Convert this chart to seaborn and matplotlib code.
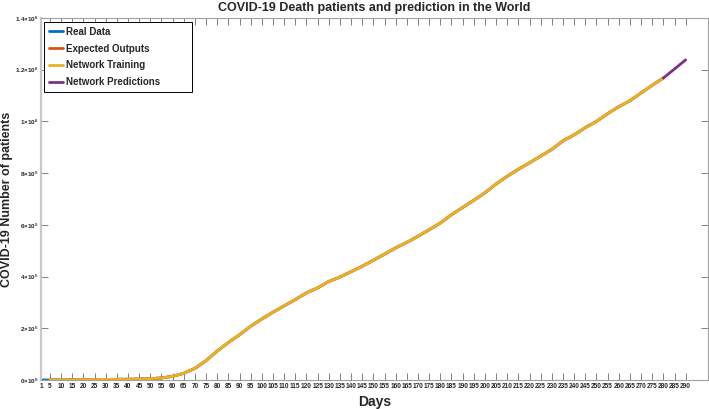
import numpy as np
import pandas as pd
import matplotlib
matplotlib.use('Agg')
import matplotlib.pyplot as plt
import seaborn as sns

# Cumulative deaths (thousands), every 5 days
days = [1, 5, 10, 15, 20, 25, 30, 35, 40, 45, 50, 55, 60, 65, 70, 75, 80, 85, 90, 95,
        100, 105, 110, 115, 120, 125, 130, 135, 140, 145, 150, 155, 160, 165, 170, 175,
        180, 185, 190, 195, 200, 205, 210, 215, 220, 225, 230, 235, 240, 245, 250, 255,
        260, 265, 270, 275, 280]
deaths_k = [0.02, 0.13, 0.26, 0.5, 1.0, 1.5, 2.2, 2.7, 3.0, 3.6, 5.0, 8.0, 14, 26, 45, 75,
            112, 145, 175, 208, 236, 262, 287, 311, 337, 356, 381, 398, 419, 440, 463, 487,
            511, 532, 556, 581, 607, 639, 667, 695, 724, 758, 788, 815, 840, 866, 892, 925,
            948, 976, 1000, 1030, 1057, 1080, 1110, 1140, 1168]
pred_days = [280, 285, 290]
pred_k = [1168, 1203, 1238]

xtick_vals = [1] + list(range(5, 295, 5))
ytick_vals = [0, 2e5, 4e5, 6e5, 8e5, 1e6, 1.2e6, 1.4e6]
ytick_labels = [r'$0{\times}10^{0}$', r'$2{\times}10^{5}$', r'$4{\times}10^{5}$',
                r'$6{\times}10^{5}$', r'$8{\times}10^{5}$', r'$1{\times}10^{6}$',
                r'$1.2{\times}10^{6}$', r'$1.4{\times}10^{6}$']

real = pd.DataFrame({'day': days, 'deaths': np.array(deaths_k) * 1000})
train = real[real['day'] >= 5]
pred = pd.DataFrame({'day': pred_days, 'deaths': np.array(pred_k) * 1000})

sns.set_style('white')
plt.rcParams['font.family'] = ['Liberation Sans', 'DejaVu Sans']
plt.rcParams['mathtext.fontset'] = 'custom'
plt.rcParams['mathtext.rm'] = 'Liberation Sans:bold'
plt.rcParams['mathtext.it'] = 'Liberation Sans:bold'

fig = plt.figure(figsize=(7.09, 4.09), dpi=100)
ax = fig.add_axes([41 / 709, 29 / 409, 667 / 709, 362 / 409])

sns.lineplot(data=real, x='day', y='deaths', color='#0072BD', lw=2, label='Real Data', ax=ax)
sns.lineplot(data=train, x='day', y='deaths', color='#D95319', lw=2, label='Expected Outputs', ax=ax)
sns.lineplot(data=train, x='day', y='deaths', color='#EDB120', lw=2, label='Network Training', ax=ax)
sns.lineplot(data=pred, x='day', y='deaths', color='#7E2F8E', lw=2, label='Network Predictions', ax=ax)

ax.set_xlim(1, 300)
ax.set_ylim(0, 1.4e6)
ax.set_xticks(xtick_vals)
ax.set_xticklabels([str(v) for v in xtick_vals], fontsize=4.7, fontweight='bold')
ax.set_yticks(ytick_vals)
ax.set_yticklabels(ytick_labels, fontsize=4.5)
ax.tick_params(direction='in', length=5, width=0.7, color='#808080', pad=2,
               top=True, right=True, bottom=True, left=True)

for side in ['top', 'right', 'bottom']:
    ax.spines[side].set_color('#a0a0a0')
    ax.spines[side].set_linewidth(0.8)
ax.spines['left'].set_color('#c8c8c8')
ax.spines['left'].set_linewidth(1.6)

ax.set_title('COVID-19 Death patients and prediction in the World',
             fontsize=9, fontweight='bold', pad=5)
ax.set_xlabel('Days', fontsize=10, fontweight='bold', labelpad=4)
ax.set_ylabel('COVID-19 Number of patients', fontsize=9, fontweight='bold')
ax.yaxis.set_label_coords(-28 / 667, 0.5)

leg = ax.legend(loc='upper left', bbox_to_anchor=(0.0045, 0.989, 0.222, 0.0),
                mode='expand', prop={'weight': 'bold', 'size': 7},
                handlelength=1.45, handletextpad=0.3, labelspacing=0.7,
                borderaxespad=0, fancybox=False, framealpha=1, borderpad=0.5)
leg.get_frame().set_edgecolor('black')
leg.get_frame().set_linewidth(0.7)

fig.savefig('out.png', dpi=100)
